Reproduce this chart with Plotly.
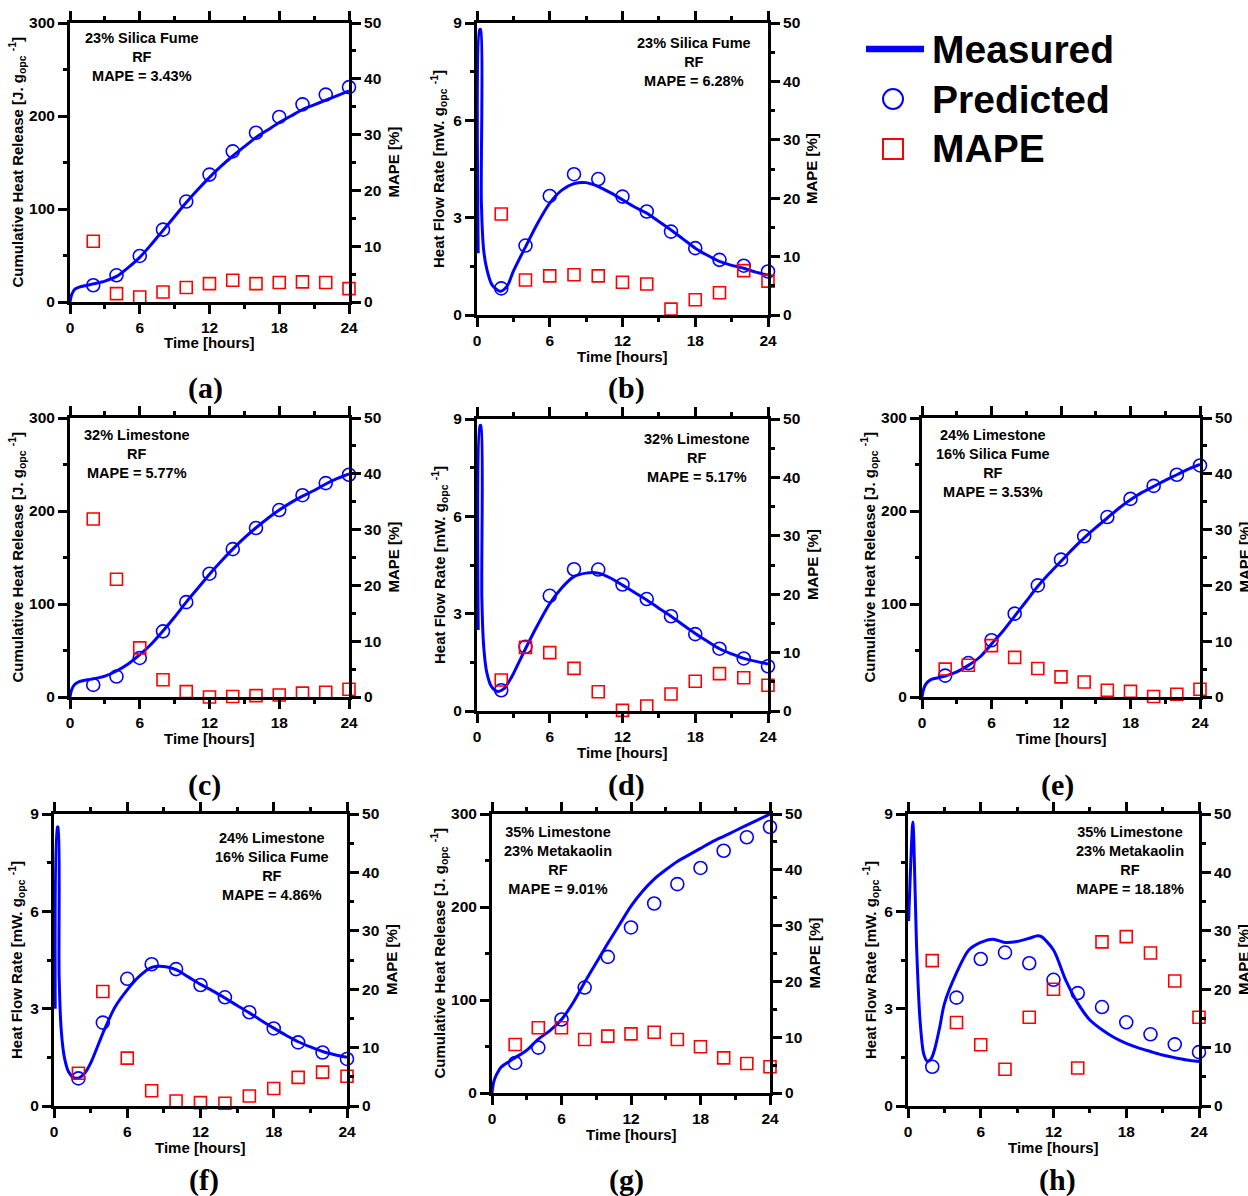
import plotly.graph_objects as go

W, H = 1248, 1196

hours = [2, 4, 6, 8, 10, 12, 14, 16, 18, 20, 22, 24]
full_t = [3, 4, 5, 6, 7, 8, 9, 10, 11, 12, 13, 14, 15, 16, 17, 18, 19, 20, 21, 22, 23, 24]

# (a) 23% silica fume, cumulative
a_t = [0, 0.15, 0.4, 0.8, 1.5, 2] + full_t
a_meas = [0, 8, 13.5, 16, 18, 19.5, 22.5, 27.5, 37, 48, 62, 77, 92, 107, 121, 134, 146, 157,
          167, 177, 185, 193, 200, 207, 212, 217, 222, 227]
a_pred = [18, 28.7, 49.5, 77.8, 108, 137, 162, 182, 199, 212.5, 223, 231]
a_mape = [10.9, 1.5, 0.9, 1.8, 2.6, 3.3, 3.9, 3.3, 3.5, 3.6, 3.5, 2.4]

# (b) 23% silica fume, heat flow
b_t = [0.1, 0.22, 0.3, 0.36, 0.55, 0.82, 1.24, 1.9, 2.5] + full_t
b_meas = [1.9, 8.8, 8.8, 3.5, 2.0, 1.4, 0.93, 0.73, 0.9, 1.35, 2.1, 2.83, 3.45, 3.85, 4.05, 4.08,
          3.96, 3.77, 3.55, 3.33, 3.14, 2.88, 2.62, 2.34, 2.06, 1.84, 1.65, 1.53, 1.44, 1.32, 1.23]
b_pred = [0.82, 2.14, 3.67, 4.34, 4.19, 3.65, 3.19, 2.57, 2.06, 1.70, 1.52, 1.34]
b_mape = [17.3, 6.0, 6.7, 6.9, 6.7, 5.6, 5.3, 1.0, 2.6, 3.8, 7.6, 5.8]

# (c) 32% limestone, cumulative
c_t = [0, 0.15, 0.4, 0.8, 1.5, 2] + full_t
c_meas = [0, 8, 13.5, 16.5, 18.5, 19.5, 22.5, 28, 35.5, 45.5, 57, 71, 86, 102, 117, 132, 146,
          159, 171, 182, 192, 201, 209, 216, 222, 229, 235, 240]
c_pred = [13, 22, 42, 70.6, 102, 132.6, 159, 181.7, 201, 217, 230, 239]
c_mape = [31.9, 21.1, 8.8, 3.1, 0.96, 0.0, 0.1, 0.25, 0.35, 0.7, 0.85, 1.4]

# (d) 32% limestone, heat flow
d_t = [0.1, 0.25, 0.32, 0.4, 0.55, 0.8, 1.2, 1.7, 2.2, 2.7] + full_t
d_meas = [2.5, 8.8, 8.8, 3.5, 2.0, 1.2, 0.75, 0.6, 0.68, 0.95, 1.15, 1.92, 2.65, 3.31, 3.8, 4.14,
          4.25, 4.25, 4.1, 3.88, 3.65, 3.42, 3.17, 2.92, 2.65, 2.39, 2.15, 1.92, 1.76, 1.62,
          1.53, 1.45]
d_pred = [0.64, 1.98, 3.55, 4.37, 4.36, 3.9, 3.45, 2.92, 2.37, 1.92, 1.62, 1.38]
d_mape = [5.3, 10.9, 10.0, 7.3, 3.3, 0.1, 0.86, 2.9, 5.1, 6.4, 5.7, 4.4]

# (e) 24% limestone + 16% silica fume, cumulative
e_t = [0, 0.15, 0.4, 0.8, 1.5, 2] + full_t
e_meas = [0, 9, 15, 19, 21, 22.5, 27, 34, 43, 57, 71, 87, 103, 119, 133, 146, 159, 171, 182,
          192.5, 203, 212, 220, 226.5, 233, 239, 245, 250]
e_pred = [23, 36.5, 61, 89.6, 120, 147.7, 172.8, 193.5, 213, 227, 239, 249]
e_mape = [5.0, 5.7, 9.2, 7.1, 5.1, 3.6, 2.7, 1.2, 1.0, 0.1, 0.5, 1.4]

# (f) 24% limestone + 16% silica fume, heat flow
f_t = [0.1, 0.28, 0.33, 0.42, 0.6, 0.85, 1.2, 1.6, 2.0, 2.5] + full_t
f_meas = [3.0, 8.6, 8.6, 4.0, 2.3, 1.5, 1.05, 0.88, 0.86, 1.0, 1.32, 2.24, 3.05, 3.58, 4.0,
          4.27, 4.3, 4.2, 3.98, 3.75, 3.55, 3.33, 3.1, 2.87, 2.63, 2.4, 2.18, 1.98, 1.82, 1.68,
          1.58, 1.5]
f_pred = [0.85, 2.57, 3.92, 4.37, 4.22, 3.73, 3.35, 2.89, 2.39, 1.96, 1.65, 1.45]
f_mape = [5.6, 19.6, 8.2, 2.6, 0.86, 0.57, 0.46, 1.7, 3.0, 4.9, 5.8, 5.1]

# (g) 35% limestone + 23% metakaolin, cumulative
g_t = [0, 0.15, 0.4, 0.8, 1.5, 2] + full_t
g_meas = [0, 12, 20, 28, 34, 38, 46, 58, 67, 79, 97, 119, 140, 161, 181, 201, 217, 230, 240,
          249, 256, 263, 270, 276, 282, 288, 294, 300]
g_pred = [32.3, 48.8, 79, 113.4, 146.4, 178, 203.8, 224.6, 242, 260.5, 275, 286]
g_mape = [8.7, 11.7, 11.7, 9.6, 10.2, 10.6, 10.9, 9.6, 8.3, 6.3, 5.3, 4.7]

# (h) 35% limestone + 23% metakaolin, heat flow
h_t = [0.05, 0.4, 0.48, 0.7, 1.0, 1.3, 1.6, 1.9, 2.2, 2.6, 3, 4, 5, 6, 7, 8, 9, 10, 10.7, 11, 12,
       13, 14, 15, 16, 17, 18, 19, 20, 21, 22, 23, 24]
h_meas = [5.7, 8.75, 8.2, 5.0, 2.6, 1.6, 1.38, 1.45, 1.75, 2.4, 3.15, 4.1, 4.8, 5.04, 5.14,
          5.04, 5.07, 5.17, 5.25, 5.22, 4.81, 3.89, 3.17, 2.65, 2.35, 2.11, 1.93, 1.79, 1.68,
          1.57, 1.49, 1.42, 1.37]
h_pred = [1.21, 3.34, 4.53, 4.73, 4.4, 3.89, 3.48, 3.05, 2.58, 2.21, 1.90, 1.66]
h_mape = [24.9, 14.3, 10.5, 6.3, 15.2, 20.0, 6.5, 28.1, 29.0, 26.2, 21.4, 15.2]

labels = ["23% Silica Fume<br>RF<br>MAPE = 3.43%",
          "23% Silica Fume<br>RF<br>MAPE = 6.28%",
          "32% Limestone<br>RF<br>MAPE = 5.77%",
          "32% Limestone<br>RF<br>MAPE = 5.17%",
          "24% Limestone<br>16% Silica Fume<br>RF<br>MAPE = 3.53%",
          "24% Limestone<br>16% Silica Fume<br>RF<br>MAPE = 4.86%",
          "35% Limestone<br>23% Metakaolin<br>RF<br>MAPE = 9.01%",
          "35% Limestone<br>23% Metakaolin<br>RF<br>MAPE = 18.18%"]
letters = ["(a)", "(b)", "(c)", "(d)", "(e)", "(f)", "(g)", "(h)"]

CUM = "Cumulative Heat Release [J. g<sub>opc</sub> <sup>-1</sup>]"
HFR = "Heat Flow Rate [mW. g<sub>opc</sub> <sup>-1</sup>]"

# kind, data, plot box (left, top, right, bottom), label centre, letter centre
panels = [
    ("cum", a_t, a_meas, a_pred, a_mape, (70, 23, 349, 302), (142, 57), (205, 388)),
    ("hfr", b_t, b_meas, b_pred, b_mape, (477, 23, 768, 315), (694, 62), (626, 388)),
    ("cum", c_t, c_meas, c_pred, c_mape, (70, 418, 349, 697), (137, 454), (204, 785)),
    ("hfr", d_t, d_meas, d_pred, d_mape, (477, 419, 768, 711), (697, 458), (626, 785)),
    ("cum", e_t, e_meas, e_pred, e_mape, (922, 418, 1200, 697), (993, 464), (1057, 785)),
    ("hfr", f_t, f_meas, f_pred, f_mape, (54, 814, 347, 1106), (272, 866), (204, 1180)),
    ("cum", g_t, g_meas, g_pred, g_mape, (492, 814, 770, 1093), (558, 860), (626, 1180)),
    ("hfr", h_t, h_meas, h_pred, h_mape, (908, 814, 1199, 1106), (1130, 860), (1057, 1180)),
]

SANS = "Liberation Sans, Arial, sans-serif"
SERIF = "Liberation Serif, Times New Roman, serif"
BLUE = "#0000ff"
RED = "#ff0000"
TF = dict(family=SANS, size=15.5, color="black", weight="bold")


def px(x):
    return x / W


def py(y):
    return 1 - y / H


fig = go.Figure()
layout = dict(width=W, height=H, template="none",
              margin=dict(l=0, r=0, t=0, b=0, pad=0, autoexpand=False),
              paper_bgcolor="white", plot_bgcolor="white", showlegend=False)
annotations = []
shapes = []

for i, (kind, t, meas, pred, mape, box, lab, let) in enumerate(panels):
    k = i + 1
    l, t0, r, b = box
    xa, yl, yr = f"x{k}", f"y{2 * k - 1}", f"y{2 * k}"

    fig.add_trace(go.Scatter(x=t, y=meas, mode="lines", xaxis=xa, yaxis=yl,
                             line=dict(color=BLUE, width=3, shape="spline", smoothing=0.8),
                             cliponaxis=False))
    fig.add_trace(go.Scatter(x=hours, y=pred, mode="markers", xaxis=xa, yaxis=yl,
                             marker=dict(symbol="circle-open", size=13, color=BLUE,
                                         line=dict(width=1.6, color=BLUE)),
                             cliponaxis=False))
    fig.add_trace(go.Scatter(x=hours, y=mape, mode="markers", xaxis=xa, yaxis=yr,
                             marker=dict(symbol="square-open", size=12, color=RED,
                                         line=dict(width=1.6, color=RED)),
                             cliponaxis=False))

    if kind == "cum":
        yrange, ytv, ymv, ytitle, off = [0, 300], [0, 100, 200, 300], [50, 150, 250], CUM, 53
    else:
        yrange, ytv, ymv, ytitle, off = [0, 9], [0, 3, 6, 9], [1.5, 4.5, 7.5], HFR, 38

    common = dict(ticks="outside", ticklen=9, tickwidth=2.5, tickcolor="black", showline=True,
                  linewidth=3, linecolor="black", showgrid=False, zeroline=False, tickfont=TF,
                  automargin=False)
    minor = dict(ticks="outside", ticklen=4, tickwidth=2.5, tickcolor="black")

    layout[f"xaxis{k}"] = dict(domain=[px(l), px(r)], anchor=yl, range=[0, 24],
                               tickvals=[0, 6, 12, 18, 24], mirror="ticks",
                               minor=dict(tickvals=[3, 9, 15, 21], **minor), **common)
    layout[f"yaxis{2 * k - 1}"] = dict(domain=[py(b), py(t0)], anchor=xa, range=yrange,
                                       tickvals=ytv, minor=dict(tickvals=ymv, **minor),
                                       **common)
    layout[f"yaxis{2 * k}"] = dict(overlaying=yl, anchor=xa, side="right", range=[0, 50],
                                   tickvals=[0, 10, 20, 30, 40, 50],
                                   minor=dict(tickvals=[5, 15, 25, 35, 45], **minor), **common)

    tfont = dict(family=SANS, size=15, color="black", weight="bold")
    annotations += [
        dict(x=px(l - off), y=py((t0 + b) / 2), text=ytitle, textangle=-90, font=tfont),
        dict(x=px(r + 44), y=py((t0 + b) / 2), text="MAPE [%]", textangle=-90, font=tfont),
        dict(x=px((l + r) / 2), y=py(b + 41), text="Time [hours]", font=tfont),
        dict(x=px(lab[0]), y=py(lab[1]), text=labels[i], align="center",
             font=dict(family=SANS, size=14.5, color="black", weight="bold")),
        dict(x=px(let[0]), y=py(let[1]), text=letters[i],
             font=dict(family=SERIF, size=30, color="black", weight="bold")),
    ]

# legend drawn by hand
lf = dict(family=SANS, size=39, color="black", weight="bold")
shapes += [
    dict(type="line", xref="paper", yref="paper", x0=px(866), x1=px(924), y0=py(49), y1=py(49),
         line=dict(color=BLUE, width=6.5)),
    dict(type="circle", xref="paper", yref="paper", x0=px(883), x1=px(903), y0=py(89),
         y1=py(109), line=dict(color=BLUE, width=2)),
    dict(type="rect", xref="paper", yref="paper", x0=px(883), x1=px(903), y0=py(139),
         y1=py(159), line=dict(color=RED, width=2)),
]
for name, yy in [("Measured", 49), ("Predicted", 99), ("MAPE", 149)]:
    annotations.append(dict(x=px(930), y=py(yy), text=name, xanchor="left", font=lf))

for a in annotations:
    a.update(xref="paper", yref="paper", showarrow=False, yanchor="middle",
             xanchor=a.get("xanchor", "center"))

layout["annotations"] = annotations
layout["shapes"] = shapes
fig.update_layout(**layout)

# page body margin would shift the figure off the window origin
fig.write_html("out.html", config={"displayModeBar": False},
               post_script="document.body.style.margin = '0';")
